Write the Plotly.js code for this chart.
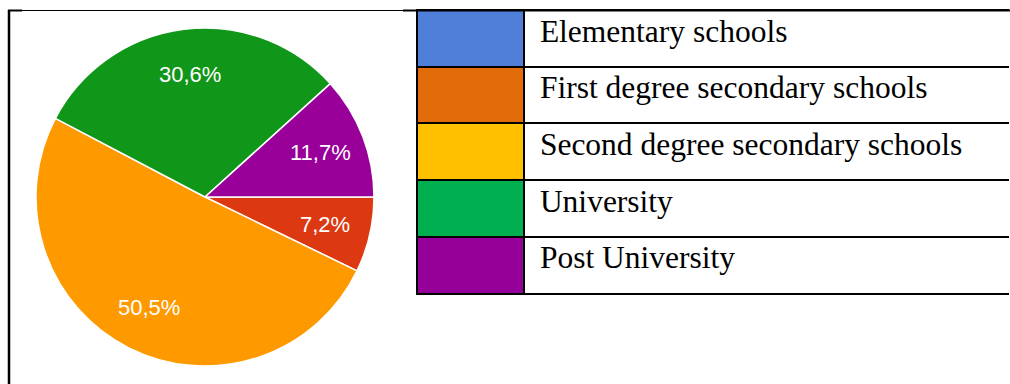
<!DOCTYPE html>
<html>
<head>
<meta charset="utf-8">
<script src="https://cdn.plot.ly/plotly-3.0.1.min.js"></script>
<style>
html,body{margin:0;padding:0;background:#fff;overflow:hidden;}
#chart{width:1030px;height:384px;}
</style>
</head>
<body>
<div id="chart"></div>
<script>
// Categories (education level)
const categories = [
  "Elementary schools",
  "First degree secondary schools",
  "Second degree secondary schools",
  "University",
  "Post University"
];
// Share of respondents, percent
const shares = [0, 7.2, 50.5, 30.6, 11.7];
// Pie slice colours
const pieColors = ["#3366CC", "#DC3912", "#FF9900", "#109618", "#990099"];
// Colours of the key table swatches
const keyColors = ["#4F7FD9", "#E36C0A", "#FFC000", "#00B050", "#950099"];

// The key table runs past the right edge of the picture, so the plot is
// wider than the 1010 px window and the overflow is clipped.
const W = 1030, H = 384, VISIBLE_W = 1010;
const px = x => x / W;
const py = y => 1 - y / H;

// pie geometry (pixels)
const pieLeft = 36, pieRight = 374, pieTop = 28, pieBottom = 366;
const cx = (pieLeft + pieRight) / 2, cy = (pieTop + pieBottom) / 2;
const R = (pieRight - pieLeft) / 2;
const rotationDeg = 90; // first slice starts at 3 o'clock, clockwise

const pie = {
  type: "pie",
  labels: categories,
  values: shares,
  sort: false,
  direction: "clockwise",
  rotation: rotationDeg,
  marker: {colors: pieColors, line: {color: "#ffffff", width: 1.5}},
  textinfo: "none",
  hoverinfo: "label+percent",
  showlegend: false,
  domain: {x: [px(pieLeft), px(pieRight)], y: [py(pieBottom), py(pieTop)]}
};

// slice labels placed along each slice's mid angle
const total = shares.reduce((a, b) => a + b, 0);
const annotations = [];
let cum = 0;
shares.forEach((v, i) => {
  const mid = (cum + v / 2) / total * 2 * Math.PI; // clockwise from 3 o'clock
  cum += v;
  if (v <= 0) return;
  const r = 0.73 * R;
  const x = cx + r * Math.cos(mid);
  const y = cy + r * Math.sin(mid);
  annotations.push({
    xref: "paper", yref: "paper", x: px(x), y: py(y),
    xanchor: "center", yanchor: "middle", showarrow: false,
    text: (v / total * 100).toFixed(1).replace(".", ",") + "%",
    font: {family: "Liberation Sans, Arial, sans-serif", size: 22, color: "#ffffff"}
  });
});

// key table: swatch column, label column (ends at the picture edge),
// and an invisible spacer column whose white rules hide the label column's right border
const tableLeft = 417, tableTop = 10, rowH = 56.7, swatchW = 107;
const pad = "\u00a0";
const rest = categories.slice(1);
const tableFont = {family: "Liberation Serif, Times New Roman, serif", size: 31.5, color: "#000000"};
const table = {
  type: "table",
  columnwidth: [swatchW, VISIBLE_W - tableLeft - swatchW, W - VISIBLE_W],
  header: {
    values: [[""], [pad + categories[0]], [""]],
    fill: {color: [keyColors[0], "#ffffff", "#ffffff"]},
    line: {color: ["#000000", "#000000", "#ffffff"], width: 2},
    align: "left",
    height: rowH,
    font: tableFont
  },
  cells: {
    values: [rest.map(() => ""), rest.map(c => pad + c), rest.map(() => "")],
    fill: {color: [keyColors.slice(1), rest.map(() => "#ffffff"), rest.map(() => "#ffffff")]},
    line: {color: ["#000000", "#000000", "#ffffff"], width: 2},
    align: "left",
    height: rowH,
    font: tableFont
  },
  domain: {x: [px(tableLeft), 1], y: [0.15, py(tableTop)]}
};

const shapes = [
  // outer frame
  {type: "line", xref: "paper", yref: "paper", x0: px(9), x1: px(9), y0: py(10), y1: 0, line: {color: "#000", width: 2.5}},
  {type: "line", xref: "paper", yref: "paper", x0: px(8), x1: px(22), y0: py(10.5), y1: py(10.5), line: {color: "#000", width: 2}},
  {type: "line", xref: "paper", yref: "paper", x0: px(22), x1: px(403), y0: py(10.5), y1: py(10.5), line: {color: "#000", width: 1}},
  {type: "line", xref: "paper", yref: "paper", x0: px(403), x1: 1, y0: py(10.5), y1: py(10.5), line: {color: "#000", width: 2}}
];

const layout = {
  width: W,
  height: H,
  margin: {l: 0, r: 0, t: 0, b: 0},
  paper_bgcolor: "#ffffff",
  separators: ",.",
  showlegend: false,
  annotations: annotations,
  shapes: shapes
};

Plotly.newPlot("chart", [pie, table], layout, {displayModeBar: false, staticPlot: true});
</script>
</body>
</html>
